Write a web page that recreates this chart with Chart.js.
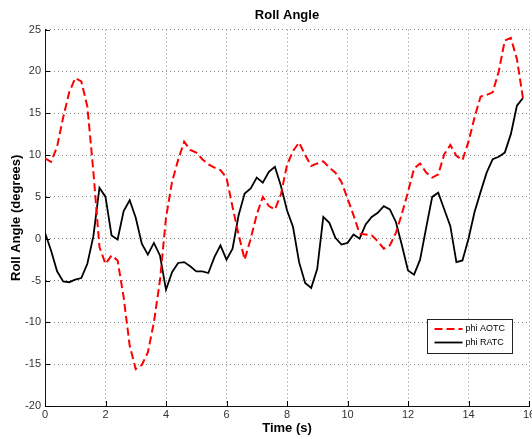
<!DOCTYPE html>
<html>
<head>
<meta charset="utf-8">
<title>Roll Angle</title>
<script src="https://cdn.jsdelivr.net/npm/chart.js@4.4.1/dist/chart.umd.min.js"></script>
<style>
  html, body { margin: 0; padding: 0; background: #fff; }
  #wrap { width: 532px; height: 439px; }
</style>
</head>
<body>
<div id="wrap"><canvas id="myChart" width="532" height="439"></canvas></div>
<script>
// Time samples (s)
const time = [
  0, 0.2, 0.4, 0.6, 0.8, 1, 1.2, 1.4, 1.6, 1.8,
  2, 2.2, 2.4, 2.6, 2.8, 3, 3.2, 3.4, 3.6, 3.8,
  4, 4.2, 4.4, 4.6, 4.8, 5, 5.2, 5.4, 5.6, 5.8,
  6, 6.2, 6.4, 6.6, 6.8, 7, 7.2, 7.4, 7.6, 7.8,
  8, 8.2, 8.4, 8.6, 8.8, 9, 9.2, 9.4, 9.6, 9.8,
  10, 10.2, 10.4, 10.6, 10.8, 11, 11.2, 11.4, 11.6, 11.8,
  12, 12.2, 12.4, 12.6, 12.8, 13, 13.2, 13.4, 13.6, 13.8,
  14, 14.2, 14.4, 14.6, 14.8, 15, 15.2, 15.4, 15.6, 15.8
];

// Roll angle, attitude-only tracking controller (degrees)
const phiAOTC = [
  9.6, 9.2, 11.0, 14.5, 17.5, 19.2, 18.8, 15.8, 8.0, -1.0,
  -3.0, -2.0, -2.6, -7.0, -12.8, -15.6, -15.1, -13.6, -10.0, -5.0,
  2.5, 6.8, 9.4, 11.6, 10.6, 10.3, 9.5, 8.9, 8.5, 8.2,
  7.3, 3.8, 0.5, -2.5, 0.0, 2.9, 5.0, 3.9, 3.5, 5.3,
  8.8, 10.5, 11.5, 10.0, 8.7, 9.0, 9.25, 8.5, 7.9, 6.8,
  4.8, 2.8, 0.6, 0.5, 0.4, -0.3, -1.2, -0.8, 0.7, 3.0,
  5.6, 8.4, 9.0, 7.9, 7.3, 7.7, 10.1, 11.2, 9.9, 9.4,
  11.6, 14.5, 17.0, 17.2, 17.5, 20.0, 23.7, 24.0, 21.5, 16.8
];

// Roll angle, rate tracking controller (degrees)
const phiRATC = [
  0.7, -1.4, -3.9, -5.1, -5.2, -4.9, -4.7, -3.0, 0.3, 6.1,
  5.0, 0.4, -0.1, 3.3, 4.6, 2.5, -0.6, -1.9, -0.5, -2.0,
  -6.1, -4.0, -2.9, -2.8, -3.3, -3.9, -3.9, -4.1, -2.2, -0.8,
  -2.5, -1.2, 2.8, 5.4, 6.0, 7.3, 6.7, 8.0, 8.6, 6.3,
  3.4, 1.4, -2.8, -5.3, -5.9, -3.6, 2.6, 1.9, 0.1, -0.7,
  -0.5, 0.5, 0.0, 1.7, 2.6, 3.1, 3.9, 3.5, 2.0, -0.8,
  -3.8, -4.3, -2.5, 1.3, 5.0, 5.5, 3.5, 1.5, -2.8, -2.6,
  0.0, 3.2, 5.6, 7.9, 9.5, 9.8, 10.3, 12.5, 15.9, 16.8
];

const seriesNames = ["phi AOTC", "phi RATC"];

const FONT = "'Liberation Sans', Arial, Helvetica, sans-serif";

function toPoints(ys) {
  return time.map((t, i) => ({ x: t, y: ys[i] }));
}

// Small inward tick marks on the left and bottom axes
const innerTicks = {
  id: "innerTicks",
  afterDraw(chart) {
    const { ctx, chartArea } = chart;
    const xs = chart.scales.x;
    const ys = chart.scales.y;
    ctx.save();
    ctx.strokeStyle = "#000";
    ctx.lineWidth = 1;
    ctx.beginPath();
    ys.ticks.forEach((t) => {
      const y = Math.round(ys.getPixelForValue(t.value)) + 0.5;
      ctx.moveTo(chartArea.left, y);
      ctx.lineTo(chartArea.left + 5, y);
    });
    xs.ticks.forEach((t) => {
      const x = Math.round(xs.getPixelForValue(t.value)) + 0.5;
      ctx.moveTo(x, chartArea.bottom);
      ctx.lineTo(x, chartArea.bottom - 5);
    });
    ctx.stroke();
    ctx.restore();
  },
};

// Legend box inside the plot, lower right
const boxLegend = {
  id: "boxLegend",
  afterDatasetsDraw(chart) {
    const { ctx, chartArea } = chart;
    const w = 85, h = 34;
    const left = Math.round(chartArea.right - 102) + 0.5;
    const top = Math.round(chartArea.bottom - 87) + 0.5;
    ctx.save();
    ctx.fillStyle = "#fff";
    ctx.fillRect(left, top, w, h);
    ctx.strokeStyle = "#222";
    ctx.lineWidth = 1;
    ctx.strokeRect(left, top, w, h);
    chart.data.datasets.forEach((ds, i) => {
      const y = top + 9.5 + i * 13.5;
      ctx.beginPath();
      ctx.strokeStyle = ds.borderColor;
      ctx.lineWidth = ds.borderWidth;
      ctx.setLineDash(ds.borderDash || []);
      ctx.moveTo(left + 7, y);
      ctx.lineTo(left + 35, y);
      ctx.stroke();
      ctx.setLineDash([]);
      ctx.fillStyle = "#000";
      ctx.font = "9px " + FONT;
      ctx.textBaseline = "middle";
      ctx.textAlign = "left";
      ctx.fillText(ds.label, left + 38, y);
    });
    ctx.restore();
  },
};

const data = {
  datasets: [
    {
      label: seriesNames[0],
      data: toPoints(phiAOTC),
      borderColor: "#ff0000",
      backgroundColor: "#ff0000",
      borderWidth: 2,
      borderDash: [8, 4],
      pointRadius: 0,
      tension: 0,
    },
    {
      label: seriesNames[1],
      data: toPoints(phiRATC),
      borderColor: "#000000",
      backgroundColor: "#000000",
      borderWidth: 1.8,
      pointRadius: 0,
      tension: 0,
    },
  ],
};

const config = {
  type: "line",
  data: data,
  options: {
    responsive: false,
    animation: false,
    layout: { padding: { top: 0, right: 3, bottom: 0, left: 0 } },
    scales: {
      x: {
        type: "linear",
        min: 0,
        max: 16,
        ticks: {
          stepSize: 2,
          color: "#333",
          padding: 2,
          maxRotation: 0,
          font: { family: FONT, size: 11 },
        },
        grid: { color: "#888", drawTicks: false },
        border: { display: true, color: "#111", width: 1, dash: [1, 3] },
        title: {
          display: true,
          text: "Time (s)",
          color: "#000",
          font: { family: FONT, size: 13, weight: "bold" },
          padding: { top: 0, bottom: 3 },
        },
        afterFit(scale) {
          scale.height = 33;
          scale.paddingLeft = 0;
          scale.paddingRight = 0;
        },
      },
      y: {
        min: -20,
        max: 25,
        ticks: {
          stepSize: 5,
          color: "#333",
          padding: 4,
          font: { family: FONT, size: 11 },
        },
        grid: { color: "#888", drawTicks: false },
        border: { display: true, color: "#111", width: 1, dash: [1, 3] },
        title: {
          display: true,
          text: "Roll Angle (degrees)",
          color: "#000",
          font: { family: FONT, size: 13, weight: "bold" },
          padding: { top: 9, bottom: 0 },
        },
        afterFit(scale) {
          scale.width = 45;
          scale.paddingTop = 0;
          scale.paddingBottom = 0;
        },
      },
    },
    plugins: {
      legend: { display: false },
      tooltip: { enabled: false },
      title: {
        display: true,
        text: "Roll Angle",
        color: "#000",
        fullSize: false,
        font: { family: FONT, size: 13, weight: "bold" },
        padding: { top: 8, bottom: 6 },
      },
    },
  },
  plugins: [innerTicks, boxLegend],
};

myChart = new Chart(document.getElementById("myChart"), config);
</script>
</body>
</html>
